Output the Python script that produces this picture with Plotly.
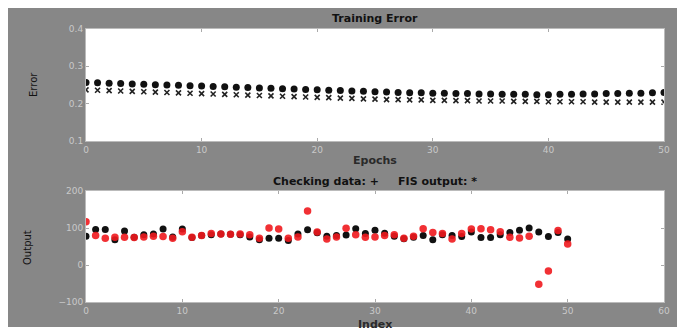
import plotly.graph_objects as go

# ---------------- data ----------------
epochs = list(range(0, 51))
train_err = [0.257, 0.256, 0.255, 0.254, 0.253, 0.252, 0.251, 0.250, 0.249, 0.248,
             0.247, 0.246, 0.245, 0.244, 0.243, 0.242, 0.241, 0.240, 0.239, 0.238,
             0.237, 0.236, 0.235, 0.234, 0.233, 0.232, 0.231, 0.230, 0.229, 0.229,
             0.228, 0.228, 0.227, 0.227, 0.226, 0.226, 0.225, 0.225, 0.225, 0.224,
             0.224, 0.225, 0.225, 0.226, 0.226, 0.227, 0.227, 0.228, 0.228, 0.229,
             0.230]
check_err = [0.237, 0.236, 0.235, 0.234, 0.233, 0.232, 0.231, 0.230, 0.229, 0.228,
             0.227, 0.226, 0.225, 0.224, 0.223, 0.222, 0.221, 0.220, 0.219, 0.218,
             0.217, 0.216, 0.215, 0.214, 0.213, 0.212, 0.211, 0.211, 0.210, 0.210,
             0.209, 0.209, 0.208, 0.208, 0.207, 0.207, 0.207, 0.206, 0.206, 0.206,
             0.205, 0.205, 0.205, 0.205, 0.204, 0.204, 0.204, 0.204, 0.204, 0.204,
             0.204]

index = list(range(0, 51))
checking_data = [78, 96, 96, 68, 92, 75, 82, 84, 97, 76,
                 97, 74, 80, 82, 84, 83, 82, 76, 68, 72,
                 72, 66, 84, 95, 87, 78, 80, 81, 98, 85,
                 94, 86, 78, 71, 75, 80, 68, 82, 80, 77,
                 89, 74, 74, 82, 88, 94, 100, 89, 77, 88,
                 70]
fis_output = [117, 80, 72, 75, 75, 74, 76, 78, 77, 72,
              90, 75, 80, 85, 84, 83, 84, 82, 72, 100,
              97, 72, 76, 146, 89, 70, 76, 99, 82, 75,
              76, 80, 82, 72, 78, 98, 88, 85, 70, 85,
              97, 98, 95, 90, 75, 73, 78, -52, -16, 93,
              57]

top_title = "Training Error"
top_xlabel = "Epochs"
top_ylabel = "Error"
bot_title = "Checking data: +     FIS output: *"
bot_xlabel = "Index"
bot_ylabel = "Output"

# ---------------- geometry ----------------
W, H = 686, 334
L, R, T, B = 86, 22, 29, 32
PW = W - L - R
PH = H - T - B


def px_x(px):
    return (px - L) / PW


def px_y(py):
    return (H - B - py) / PH


top_dom = [px_y(141), 1.0]
bot_dom = [0.0, px_y(191)]

BG = "#878787"
TICKC = "#c9c9c9"
FONT = "DejaVu Sans"

fig = go.Figure()

fig.add_trace(go.Scatter(x=epochs, y=check_err, mode="markers", xaxis="x", yaxis="y",
                         marker=dict(symbol="x-thin", size=5, line=dict(width=1.6, color="#222")),
                         showlegend=False))
fig.add_trace(go.Scatter(x=epochs, y=train_err, mode="markers", xaxis="x", yaxis="y",
                         marker=dict(symbol="circle", size=7, color="#111"),
                         showlegend=False))
fig.add_trace(go.Scatter(x=index, y=checking_data, mode="markers", xaxis="x2", yaxis="y2",
                         marker=dict(symbol="circle", size=7, color="#111"),
                         showlegend=False))
fig.add_trace(go.Scatter(x=index, y=fis_output, mode="markers", xaxis="x2", yaxis="y2",
                         marker=dict(symbol="circle", size=7.5, color="rgba(240,25,30,0.9)"),
                         showlegend=False))

axis_common = dict(showgrid=False, zeroline=False, ticks="inside", ticklen=3,
                   tickcolor="#aaaaaa", mirror="ticks", showline=True, linecolor="#bbbbbb",
                   linewidth=1, tickfont=dict(family=FONT, size=9, color=TICKC))

fig.update_layout(
    width=W, height=H,
    margin=dict(l=L, r=R, t=T, b=B),
    paper_bgcolor="white",
    plot_bgcolor="white",
    showlegend=False,
    xaxis=dict(domain=[0, 1], anchor="y", range=[0, 50], tickvals=[0, 10, 20, 30, 40, 50],
               **axis_common),
    yaxis=dict(domain=top_dom, anchor="x", range=[0.1, 0.4], tickvals=[0.1, 0.2, 0.3, 0.4],
               ticktext=["0.1", "0.2", "0.3", "0.4"], **axis_common),
    xaxis2=dict(domain=[0, 1], anchor="y2", range=[0, 60],
                tickvals=[0, 10, 20, 30, 40, 50, 60], **axis_common),
    yaxis2=dict(domain=bot_dom, anchor="x2", range=[-100, 200],
                tickvals=[-100, 0, 100, 200], **axis_common),
)

# gray figure background with white border
fig.add_shape(type="rect", xref="paper", yref="paper", layer="below",
              x0=px_x(8), x1=px_x(677), y0=px_y(327), y1=px_y(8),
              fillcolor=BG, line=dict(width=0))
# white plot areas drawn over the gray
for dom in (top_dom, bot_dom):
    fig.add_shape(type="rect", xref="paper", yref="paper", layer="below",
                  x0=0, x1=1, y0=dom[0], y1=dom[1],
                  fillcolor="white", line=dict(width=0))


def ann(text, x, y, size=11, color="#111", bold=True, angle=0):
    fig.add_annotation(text=f"<b>{text}</b>" if bold else text,
                       xref="paper", yref="paper", x=px_x(x), y=px_y(y),
                       showarrow=False, textangle=angle, xanchor="center", yanchor="middle",
                       font=dict(family=FONT, size=size, color=color))


ann(top_title, 375, 19, size=11)
ann(top_xlabel, 375, 161, size=11, color="#2a2a2a")
ann(bot_title, 375, 181, size=11)
ann(bot_xlabel, 375, 324, size=11, color="#2a2a2a")
ann(top_ylabel, 33, 85, size=10, color="#111", bold=False, angle=-90)
ann(bot_ylabel, 27, 248, size=10, color="#111", bold=False, angle=-90)

fig.write_html("out.html", config={"displayModeBar": False},
               post_script="document.body.style.margin='0';document.body.style.padding='0';")
